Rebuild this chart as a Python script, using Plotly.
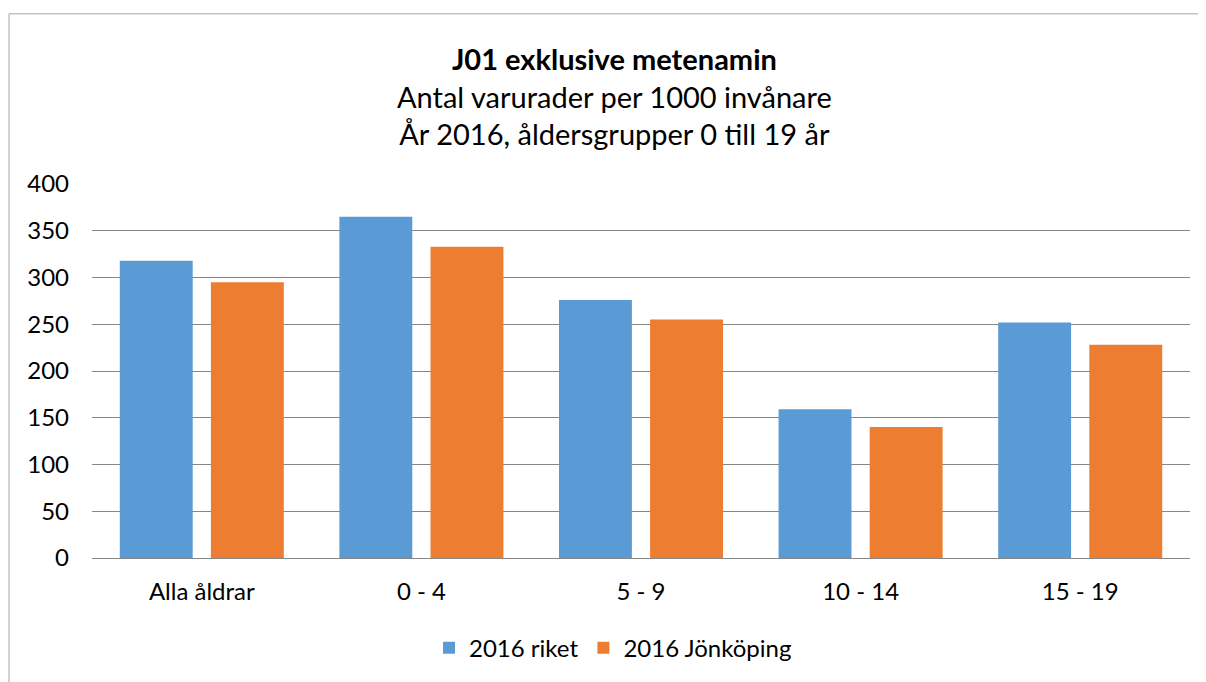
import plotly.graph_objects as go

categories = ["Alla åldrar", "0 - 4", "5 - 9", "10 - 14", "15 - 19"]
riket = [318, 365, 276, 159, 252]
jonkoping = [295, 333, 255, 140, 228]
series_names = ["2016 riket", "2016 Jönköping"]
y_ticks = [0, 50, 100, 150, 200, 250, 300, 350, 400]

# page is rendered with an 8px body margin, so figure is offset by 8px
OFF = 8
W, H = 1206 - OFF, 682 - OFF
L, R, T, B = 92 - OFF, 16, 184 - OFF, 120
pw, ph = W - L - R, H - T - B

FONT = "Lato, Calibri, sans-serif"

fig = go.Figure()
fig.add_trace(go.Bar(x=categories, y=riket, name=series_names[0],
                     marker=dict(color="#5B9BD5", line=dict(width=0))))
fig.add_trace(go.Bar(x=categories, y=jonkoping, name=series_names[1],
                     marker=dict(color="#ED7D31", line=dict(width=0))))

def px_x(xp):
    return (xp - OFF - L) / pw

def px_y(yp):
    return (H - B - (yp - OFF)) / ph

fig.update_layout(
    width=W, height=H,
    margin=dict(l=L, r=R, t=T, b=B),
    paper_bgcolor="white", plot_bgcolor="white",
    barmode="group", bargap=0.17, bargroupgap=0.2,
    font=dict(family=FONT, size=24, color="#000000"),
    showlegend=True,
    legend=dict(orientation="h", x=px_x(613), xanchor="center",
                y=px_y(653), yanchor="middle",
                font=dict(family=FONT, size=24),
                itemwidth=30, traceorder="normal"),
    xaxis=dict(showgrid=False, showline=True, linecolor="#868686", linewidth=1,
               ticks="", tickfont=dict(family=FONT, size=24),
               ticklabelstandoff=12, automargin=False),
    yaxis=dict(range=[0, 400], tickvals=y_ticks, showgrid=True,
               gridcolor="#868686", gridwidth=1, zeroline=False,
               showline=False, ticks="", tickfont=dict(family=FONT, size=24),
               ticklabelstandoff=22, automargin=False),
    annotations=[dict(
        text="<b>J01 exklusive metenamin</b><br>Antal varurader per 1000 invånare<br>År 2016, åldersgrupper 0 till 19 år",
        xref="paper", yref="paper", x=px_x(614), y=px_y(95),
        xanchor="center", yanchor="middle", showarrow=False, align="center",
        font=dict(family=FONT, size=29, color="#000000"),
    )],
    shapes=[dict(type="rect", xref="paper", yref="paper",
                 x0=px_x(9), x1=px_x(1205), y0=px_y(690), y1=px_y(12),
                 line=dict(color="#A6A6A6", width=1), fillcolor="rgba(0,0,0,0)",
                 layer="below")],
)

fig.write_html("out.html")
